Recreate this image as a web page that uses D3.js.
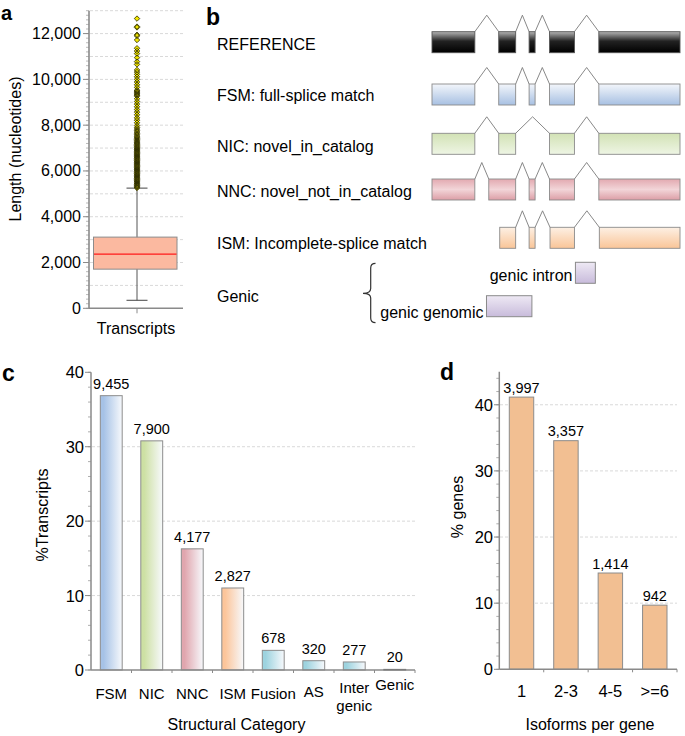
<!DOCTYPE html>
<html><head><meta charset="utf-8">
<script src="https://cdn.jsdelivr.net/npm/d3@7"></script>
<style>
html,body{margin:0;padding:0;background:#fff;}
svg{display:block;font-family:"Liberation Sans",Arial,sans-serif;}
</style></head>
<body>
<svg id="chart" width="685" height="736"></svg>
<script>
// ---------- DATA ----------
// panel a: transcript length box plot
const boxStats = {q1: 1710, median: 2365, q3: 3110, low: 350, high: 5250};
const outliers = [5255,5290,5330,5365,5400,5440,5475,5515,5550,5590,5625,5665,5700,5740,5780,5815,5855,5890,5930,5970,
  6005,6045,6080,6120,6160,6195,6235,6270,6310,6350,6385,6425,6460,6500,6540,6575,6615,6650,6690,6730,6765,6805,6840,
  6880,6920,6955,6995,7030,7070,7110,7150,7190,7230,7270,7320,7370,7420,7470,7520,7580,7640,7700,7760,7830,
  7900,7985,8105,8215,8320,8455,8570,8685,8805,8920,9035,9155,9270,9310,9360,9400,9445,9490,9530,9650,9765,9885,
  10000,10115,10220,10320,10410,10655,10775,10950,11125,11240,11360,11720,11900,11950,12270,12305,12655];
const lengthTicks = [0,2000,4000,6000,8000,10000,12000];

// panel b: structure diagram (exon coordinates, arbitrary units)
const structLabels = ["REFERENCE","FSM: full-splice match","NIC: novel_in_catalog","NNC: novel_not_in_catalog","ISM: Incomplete-splice match"];
const refExons = [[0,43],[67,84],[97.5,103.5],[118,143],[167.5,249]];
const fsmExons = [[0,43],[67,84],[97.5,103.5],[118,143],[167.5,249]];
const nicExons = [[0,43],[67,84],[118,143],[167.5,249]];
const nncExons = [[0,43],[57,84],[97.5,103.5],[118,143],[167.5,249]];
const ismExons = [[68,84],[97.5,103.5],[118.5,143],[168,249]];
const genicLabel = "Genic";
const genicIntron = [144,164];
const genicGenomic = [54.7,100.3];

// panel c: structural categories
const categories = ["FSM","NIC","NNC","ISM","Fusion","AS","Inter genic","Genic"];
const catPercent = [36.86,30.79,16.28,11.02,2.64,1.25,1.08,0.08];
const catCounts = ["9,455","7,900","4,177","2,827","678","320","277","20"];
const catTicks = [0,10,20,30,40];

// panel d: isoforms per gene
const isoCategories = ["1","2-3","4-5",">=6"];
const isoPercent = [41.16,34.57,14.56,9.70];
const isoCounts = ["3,997","3,357","1,414","942"];
const isoTicks = [0,10,20,30,40];

// ---------- DRAW ----------
const svg = d3.select("#chart");
const defs = svg.append("defs");
const AX = "#8a8a8a", GRID = "#d9d9d9";

function vGrad(id, stops){
  const g = defs.append("linearGradient").attr("id", id).attr("x1",0).attr("y1",0).attr("x2",0).attr("y2",1);
  stops.forEach(s => g.append("stop").attr("offset", s[0]).attr("stop-color", s[1]));
}
function hGrad(id, stops){
  const g = defs.append("linearGradient").attr("id", id).attr("x1",0).attr("y1",0).attr("x2",1).attr("y2",0);
  stops.forEach(s => g.append("stop").attr("offset", s[0]).attr("stop-color", s[1]));
}
function letter(x, y, t, s){
  svg.append("text").attr("x", x).attr("y", y).attr("font-size", s || 23).attr("font-weight", "bold").text(t);
}

// ===== Panel a =====
{
  const y = d3.scaleLinear().domain([0,13000]).range([308.3, 10.7]);
  const x0 = 89, x1 = 183, cx = 137;
  const g = svg.append("g");
  // grid
  g.selectAll(".ga").data(d3.range(1000, 13001, 1000)).join("line")
    .attr("x1", x0+1).attr("x2", x1).attr("y1", d=>y(d)).attr("y2", d=>y(d))
    .attr("stroke", GRID).attr("stroke-dasharray","3,2");
  // minor ticks
  g.selectAll(".mt").data(d3.range(0, 13001, 200)).join("line")
    .attr("x1", x0-3).attr("x2", x0).attr("y1", d=>y(d)).attr("y2", d=>y(d)).attr("stroke", "#aaa").attr("stroke-width",0.8);
  g.selectAll(".Mt").data(lengthTicks).join("line")
    .attr("x1", x0-6).attr("x2", x0).attr("y1", d=>y(d)).attr("y2", d=>y(d)).attr("stroke", AX);
  g.selectAll(".tl").data(lengthTicks).join("text")
    .attr("x", 81).attr("y", d=>y(d)+5.5).attr("text-anchor","end").attr("font-size",16).text(d=>d3.format(",")(d));
  // axes
  g.append("line").attr("x1",x0).attr("x2",x0).attr("y1",y(13000)).attr("y2",y(0)).attr("stroke",AX).attr("stroke-width",1.6);
  g.append("line").attr("x1",x0).attr("x2",x1).attr("y1",y(0)).attr("y2",y(0)).attr("stroke",AX).attr("stroke-width",1.6);
  g.append("line").attr("x1",cx).attr("x2",cx).attr("y1",y(0)).attr("y2",y(0)+5).attr("stroke",AX);
  // whiskers
  g.append("line").attr("x1",cx).attr("x2",cx).attr("y1",y(boxStats.low)).attr("y2",y(boxStats.high)).attr("stroke","#555");
  [boxStats.low, boxStats.high].forEach(v => g.append("line").attr("x1",cx-10.5).attr("x2",cx+10.5)
    .attr("y1",y(v)).attr("y2",y(v)).attr("stroke","#444"));
  // box
  g.append("rect").attr("x",93.5).attr("width",83.5).attr("y",y(boxStats.q3)).attr("height",y(boxStats.q1)-y(boxStats.q3))
    .attr("fill","#fbb9a0").attr("stroke","#8c8c8c");
  g.append("line").attr("x1",94).attr("x2",176.5).attr("y1",y(boxStats.median)).attr("y2",y(boxStats.median)).attr("stroke","#ff1a1a").attr("stroke-width",1.2);
  // outliers: fill pass then outline pass
  const sym = d3.symbol(d3.symbolDiamond2 || d3.symbolDiamond, 19)();
  g.selectAll(".of").data(outliers).join("path").attr("d", sym)
    .attr("transform", d=>`translate(${cx},${y(d)})`).attr("fill","#f2e600");
  g.selectAll(".os").data(outliers).join("path").attr("d", sym)
    .attr("transform", d=>`translate(${cx},${y(d)})`).attr("fill","none").attr("stroke","#2a2a00").attr("stroke-width",0.8);
  // labels
  g.append("text").attr("transform","translate(21,149) rotate(-90)").attr("text-anchor","middle").attr("font-size",16).text("Length (nucleotides)");
  g.append("text").attr("x",136).attr("y",333.5).attr("text-anchor","middle").attr("font-size",16).text("Transcripts");
  letter(1, 20, "a", 20);
}

// ===== Panel b =====
{
  const x = d3.scaleLinear().domain([0,250]).range([432,681]);
  const rowTop = [31.7, 84, 133.3, 179, 227.3];
  const labelY = [50, 101, 152, 197, 249];
  const exH = 21, peak = 16.5;
  vGrad("gRef", [[0,"#b5b5b5"],[0.45,"#222"],[1,"#000"]]);
  vGrad("gFsm", [[0,"#f3f6fb"],[1,"#a7c0e2"]]);
  vGrad("gNic", [[0,"#d2e2b5"],[1,"#eef5e4"]]);
  vGrad("gNnc", [[0,"#e2a9b0"],[0.5,"#f2d5d8"],[1,"#dc9ea6"]]);
  vGrad("gIsm", [[0,"#fdf0e4"],[1,"#f9c598"]]);
  vGrad("gGen", [[0,"#eee9f4"],[1,"#c8bbdb"]]);
  const rows = [refExons, fsmExons, nicExons, nncExons, ismExons];
  const fills = ["gRef","gFsm","gNic","gNnc","gIsm"];
  const g = svg.append("g");
  rows.forEach((ex, i) => {
    const top = rowTop[i];
    // introns
    for (let k = 0; k < ex.length-1; k++){
      const a = x(ex[k][1]), b = x(ex[k+1][0]);
      g.append("path").attr("d", `M${a},${top}L${(a+b)/2},${top-peak}L${b},${top}`)
        .attr("fill","none").attr("stroke","#7a7a7a").attr("stroke-width",0.9);
    }
    g.selectAll(null).data(ex).join("rect")
      .attr("x", d=>x(d[0])).attr("width", d=>x(d[1])-x(d[0])).attr("y", top).attr("height", exH)
      .attr("fill", `url(#${fills[i]})`).attr("stroke", i===0 ? "#555" : "#8a8a8a").attr("stroke-width",0.9);
    g.append("text").attr("x",217).attr("y",labelY[i]).attr("font-size",16).text(structLabels[i]);
  });
  g.append("text").attr("x",217).attr("y",302).attr("font-size",16).text(genicLabel);
  // brace
  g.append("path").attr("d","M375.5,263.3Q370.7,263.3 370.7,268L370.7,288.5Q370.7,293.3 363,293.3Q370.7,293.3 370.7,298L370.7,318Q370.7,322.7 375.5,322.7")
    .attr("fill","none").attr("stroke","#333").attr("stroke-width",1.2);
  g.append("rect").attr("x",x(genicIntron[0])).attr("width",x(genicIntron[1])-x(genicIntron[0])).attr("y",262.3).attr("height",21)
    .attr("fill","url(#gGen)").attr("stroke","#8a8a8a");
  g.append("text").attr("x",x(genicIntron[0])-3).attr("y",281).attr("text-anchor","end").attr("font-size",16).text("genic intron");
  g.append("rect").attr("x",x(genicGenomic[0])).attr("width",x(genicGenomic[1])-x(genicGenomic[0])).attr("y",295.7).attr("height",21)
    .attr("fill","url(#gGen)").attr("stroke","#8a8a8a");
  g.append("text").attr("x",x(genicGenomic[0])-3).attr("y",317.5).attr("text-anchor","end").attr("font-size",16).text("genic genomic");
  letter(206, 25, "b");
}

// ===== Panel c =====
{
  const y = d3.scaleLinear().domain([0,40]).range([670, 372.3]);
  const x = d3.scaleBand().domain(categories).range([91,415]).paddingInner(0.46).paddingOuter(0.23);
  const g = svg.append("g");
  const barCols = ["#a6c2e6","#cde0a3","#e0a6ae","#fcc59a","#9dd3df","#9dd3df","#9dd3df","#9dd3df"];
  barCols.forEach((c,i)=>hGrad("gc"+i, [[0,c],[0.15,c],[1,"#f7f9fc"]]));
  g.selectAll(".gr").data([10,20,30]).join("line")
    .attr("x1",92).attr("x2",415).attr("y1",d=>y(d)).attr("y2",d=>y(d)).attr("stroke",GRID).attr("stroke-dasharray","3,2");
  g.selectAll(".mt").data(d3.range(0,41,2)).join("line")
    .attr("x1",88).attr("x2",91).attr("y1",d=>y(d)).attr("y2",d=>y(d)).attr("stroke","#999").attr("stroke-width",0.8);
  g.selectAll(".Mt").data(catTicks).join("line")
    .attr("x1",85).attr("x2",91).attr("y1",d=>y(d)).attr("y2",d=>y(d)).attr("stroke",AX);
  g.selectAll(".tl").data(catTicks).join("text")
    .attr("x",84).attr("y",d=>y(d)+6).attr("text-anchor","end").attr("font-size",16.5).text(d=>d);
  g.selectAll(".bar").data(categories).join("rect")
    .attr("x", d=>x(d)).attr("width", x.bandwidth())
    .attr("y", (d,i)=>y(catPercent[i])).attr("height", (d,i)=>Math.max(0.6, y(0)-y(catPercent[i])))
    .attr("fill", (d,i)=>`url(#gc${i})`).attr("stroke", (d,i)=> i===7 ? "#555" : "#8c8c8c").attr("stroke-width",1);
  g.selectAll(".vl").data(categories).join("text")
    .attr("x", d=>x(d)+x.bandwidth()/2).attr("y", (d,i)=>y(catPercent[i])-7)
    .attr("text-anchor","middle").attr("font-size",14.5).text((d,i)=>catCounts[i]);
  g.append("line").attr("x1",91).attr("x2",91).attr("y1",y(40)).attr("y2",y(0)).attr("stroke",AX).attr("stroke-width",1.5);
  g.append("line").attr("x1",91).attr("x2",415).attr("y1",y(0)).attr("y2",y(0)).attr("stroke",AX).attr("stroke-width",1.5);
  g.selectAll(".xt").data(categories).join("line")
    .attr("x1", d=>x(d)-x.step()*0.23+x.step()).attr("x2", d=>x(d)-x.step()*0.23+x.step())
    .attr("y1", y(0)).attr("y2", y(0)+3).attr("stroke",AX);
  categories.forEach((c,i)=>{
    const parts = c.split(" ");
    const t = g.append("text").attr("text-anchor","middle").attr("font-size",15).attr("x", x(c)+x.bandwidth()/2);
    if (parts.length > 1){
      t.attr("y", 693);
      parts.forEach((p,k)=> t.append("tspan").attr("x", x(c)+x.bandwidth()/2).attr("dy", k===0?0:18).text(p));
    } else {
      t.attr("y", c==="Genic" ? 690 : (c==="AS" ? 697 : 699)).text(c);
    }
  });
  g.append("text").attr("transform","translate(48,515) rotate(-90)").attr("text-anchor","middle").attr("font-size",16).text("%Transcripts");
  g.append("text").attr("x",236.5).attr("y",730).attr("text-anchor","middle").attr("font-size",16).text("Structural Category");
  letter(2, 381, "c");
}

// ===== Panel d =====
{
  const y = d3.scaleLinear().domain([0,45]).range([669.3, 371.7]);
  const x = d3.scaleBand().domain(isoCategories).range([499.3,677]).paddingInner(0.45).paddingOuter(0.225);
  const g = svg.append("g");
  g.selectAll(".gr").data([10,20,30,40]).join("line")
    .attr("x1",500).attr("x2",677).attr("y1",d=>y(d)).attr("y2",d=>y(d)).attr("stroke",GRID).attr("stroke-dasharray","3,2");
  g.selectAll(".mt").data(d3.range(0,45,2)).join("line")
    .attr("x1",496.3).attr("x2",499.3).attr("y1",d=>y(d)).attr("y2",d=>y(d)).attr("stroke","#999").attr("stroke-width",0.8);
  g.selectAll(".Mt").data(isoTicks).join("line")
    .attr("x1",494).attr("x2",499.3).attr("y1",d=>y(d)).attr("y2",d=>y(d)).attr("stroke",AX);
  g.selectAll(".tl").data(isoTicks).join("text")
    .attr("x",493).attr("y",d=>y(d)+6).attr("text-anchor","end").attr("font-size",16.5).text(d=>d);
  g.selectAll(".bar").data(isoCategories).join("rect")
    .attr("x", d=>x(d)).attr("width", x.bandwidth())
    .attr("y", (d,i)=>y(isoPercent[i])).attr("height", (d,i)=>y(0)-y(isoPercent[i]))
    .attr("fill","#f2bf92").attr("stroke","#8c8c8c");
  g.selectAll(".vl").data(isoCategories).join("text")
    .attr("x", d=>x(d)+x.bandwidth()/2).attr("y", (d,i)=>y(isoPercent[i])-4.5)
    .attr("text-anchor","middle").attr("font-size",14.5).text((d,i)=>isoCounts[i]);
  g.append("line").attr("x1",499.3).attr("x2",499.3).attr("y1",y(45)).attr("y2",y(0)).attr("stroke",AX).attr("stroke-width",1.5);
  g.append("line").attr("x1",499.3).attr("x2",677).attr("y1",y(0)).attr("y2",y(0)).attr("stroke",AX).attr("stroke-width",1.5);
  g.selectAll(".xt").data(isoCategories).join("line")
    .attr("x1", d=>x(d)-x.step()*0.225+x.step()).attr("x2", d=>x(d)-x.step()*0.225+x.step())
    .attr("y1", y(0)).attr("y2", y(0)+3).attr("stroke",AX);
  g.selectAll(".xl").data(isoCategories).join("text")
    .attr("x", d=>x(d)+x.bandwidth()/2).attr("y",697).attr("text-anchor","middle").attr("font-size",16.5).text(d=>d);
  g.append("text").attr("transform","translate(463,507) rotate(-90)").attr("text-anchor","middle").attr("font-size",16).text("% genes");
  g.append("text").attr("x",590).attr("y",730).attr("text-anchor","middle").attr("font-size",16).text("Isoforms per gene");
  letter(440, 380, "d");
}
</script>
</body></html>
